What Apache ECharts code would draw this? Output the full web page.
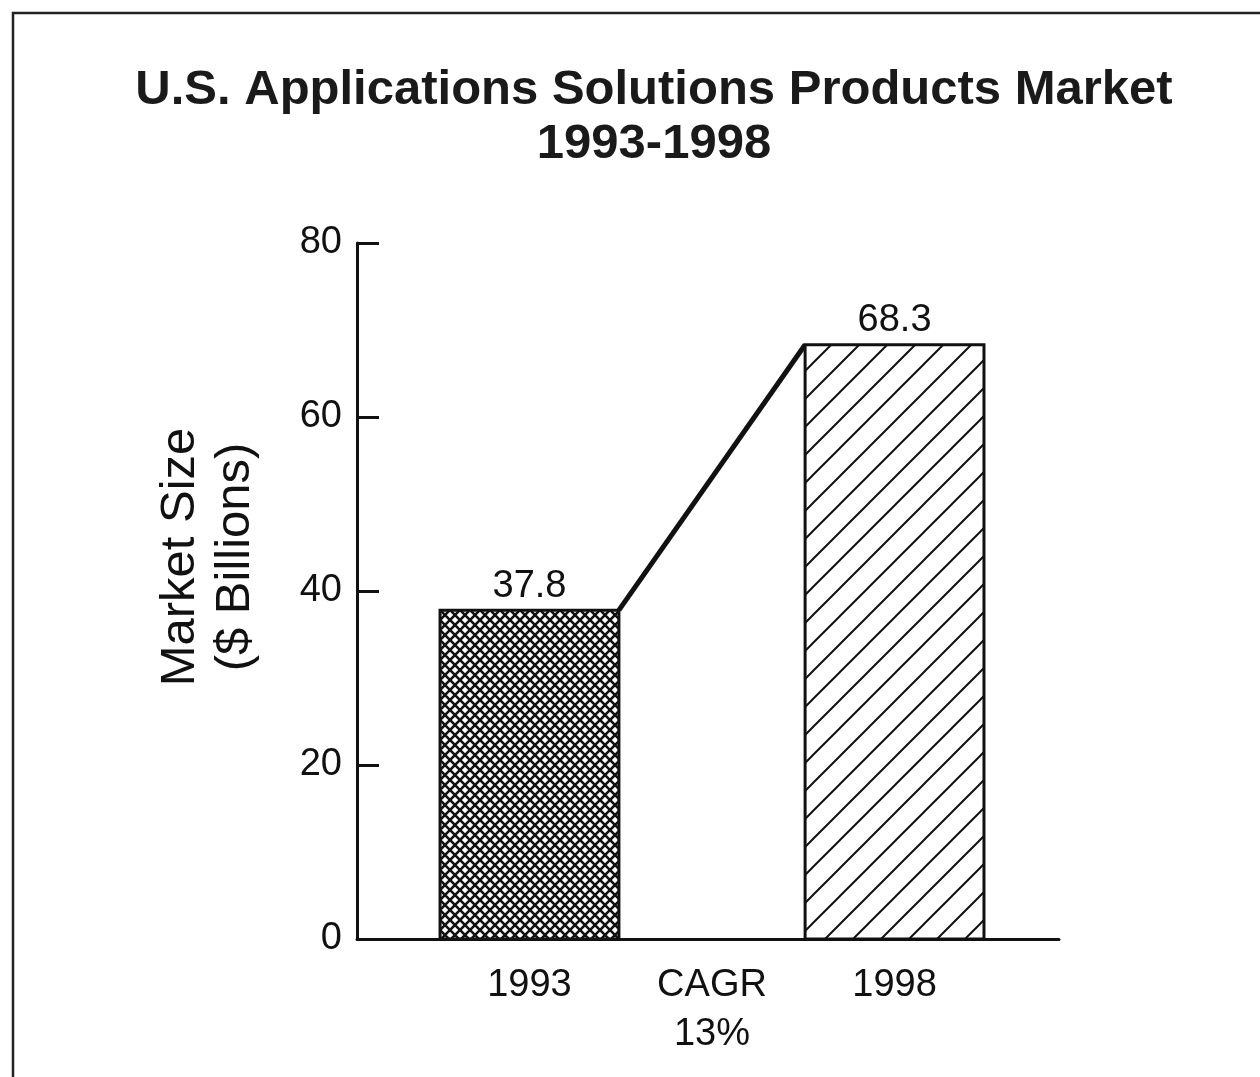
<!DOCTYPE html>
<html>
<head>
<meta charset="utf-8">
<title>U.S. Applications Solutions Products Market</title>
<script src="https://cdn.jsdelivr.net/npm/echarts@6/dist/echarts.min.js"></script>
<style>
html, body { margin: 0; padding: 0; background: #fff; }
#chart { width: 1260px; height: 1077px; }
</style>
</head>
<body>
<div id="chart"></div>
<script>
// data
var years = ['1993', '1998'];
var positions = [0, 2];
var marketSize = [37.8, 68.3];
var middleLabel = 'CAGR\n13%';
var yTicks = [0, 20, 40, 60, 80];

var font = '"Liberation Sans", Arial, Helvetica, sans-serif';
var halfWidth = 0.49;

// hatch fills, made once on small canvases
function crossPattern() {
    var s = 10, c = document.createElement('canvas');
    c.width = s; c.height = s;
    var g = c.getContext('2d');
    g.fillStyle = '#fff';
    g.fillRect(0, 0, s, s);
    g.strokeStyle = '#111';
    g.lineWidth = 2.6;
    g.beginPath();
    g.moveTo(-1, -1); g.lineTo(s + 1, s + 1);
    g.moveTo(s + 1, -1); g.lineTo(-1, s + 1);
    g.stroke();
    return c;
}
function slashPattern() {
    var s = 28, c = document.createElement('canvas');
    c.width = s; c.height = s;
    var g = c.getContext('2d');
    g.fillStyle = '#fff';
    g.fillRect(0, 0, s, s);
    g.strokeStyle = '#111';
    g.lineWidth = 2;
    g.beginPath();
    g.moveTo(-2, s + 2); g.lineTo(s + 2, -2);
    g.moveTo(-2, 2); g.lineTo(2, -2);
    g.moveTo(s - 2, s + 2); g.lineTo(s + 2, s - 2);
    g.stroke();
    return c;
}
var fills = [
    { image: crossPattern(), repeat: 'repeat' },
    { image: slashPattern(), repeat: 'repeat' }
];

var barData = years.map(function (y, i) { return [positions[i], marketSize[i]]; });
var connector = [
    [positions[0] + halfWidth, marketSize[0]],
    [positions[1] - halfWidth, marketSize[1]]
];
var xLabels = {};
xLabels[positions[0]] = years[0];
xLabels[(positions[0] + positions[1]) / 2] = middleLabel;
xLabels[positions[1]] = years[1];

var myChart = echarts.init(document.getElementById('chart'));
myChart.setOption({
    backgroundColor: '#fff',
    animation: false,
    title: {
        text: 'U.S. Applications Solutions Products Market\n1993-1998',
        left: 649,
        textAlign: 'center',
        top: 58,
        textStyle: {
            fontFamily: font,
            fontWeight: 'bold',
            fontSize: 49,
            lineHeight: 54,
            color: '#1a1a1a'
        }
    },
    graphic: [{
        type: 'polyline',
        shape: { points: [[1262, 13], [13, 13], [13, 1079]] },
        style: { stroke: '#222', lineWidth: 2.5, fill: null }
    }],
    grid: {
        left: 357,
        right: 201,
        top: 243,
        bottom: 138
    },
    xAxis: {
        type: 'value',
        min: -0.945,
        max: 2.901,
        axisLine: { show: true, lineStyle: { color: '#111', width: 3 } },
        axisTick: { show: false },
        splitLine: { show: false },
        axisLabel: {
            customValues: Object.keys(xLabels).map(Number),
            formatter: function (v) { return xLabels[v]; },
            margin: 22,
            fontFamily: font,
            fontSize: 38,
            lineHeight: 49,
            color: '#111'
        }
    },
    yAxis: {
        type: 'value',
        min: 0,
        max: 80,
        interval: 20,
        name: 'Market Size\n($ Billions)',
        nameLocation: 'middle',
        nameRotate: 90,
        nameGap: 94,
        nameTextStyle: {
            fontFamily: font,
            fontSize: 49,
            lineHeight: 55,
            color: '#111',
            padding: [0, 0, 0, 68]
        },
        axisLine: { show: true, onZero: false, lineStyle: { color: '#111', width: 3 } },
        axisTick: { show: true, inside: true, length: 22, lineStyle: { color: '#111', width: 3 } },
        splitLine: { show: false },
        axisLabel: {
            margin: 15,
            fontFamily: font,
            fontSize: 38,
            color: '#111',
            formatter: function (v) { return yTicks.indexOf(v) >= 0 ? String(v) : ''; }
        }
    },
    series: [{
        type: 'line',
        data: connector,
        symbol: 'none',
        lineStyle: { color: '#111', width: 5 },
        z: 1
    }, {
        type: 'custom',
        data: barData,
        z: 2,
        renderItem: function (params, api) {
            var x = api.value(0), y = api.value(1);
            var tl = api.coord([x - halfWidth, y]);
            var br = api.coord([x + halfWidth, 0]);
            return {
                type: 'group',
                children: [{
                    type: 'rect',
                    shape: { x: tl[0], y: tl[1], width: br[0] - tl[0], height: br[1] - tl[1] },
                    style: { fill: fills[params.dataIndex], stroke: '#111', lineWidth: 3 }
                }, {
                    type: 'text',
                    x: (tl[0] + br[0]) / 2,
                    y: tl[1] - 5,
                    style: {
                        text: String(y),
                        fontFamily: font,
                        fontSize: 38,
                        fill: '#111',
                        align: 'center',
                        verticalAlign: 'bottom'
                    }
                }]
            };
        }
    }]
});
</script>
</body>
</html>
